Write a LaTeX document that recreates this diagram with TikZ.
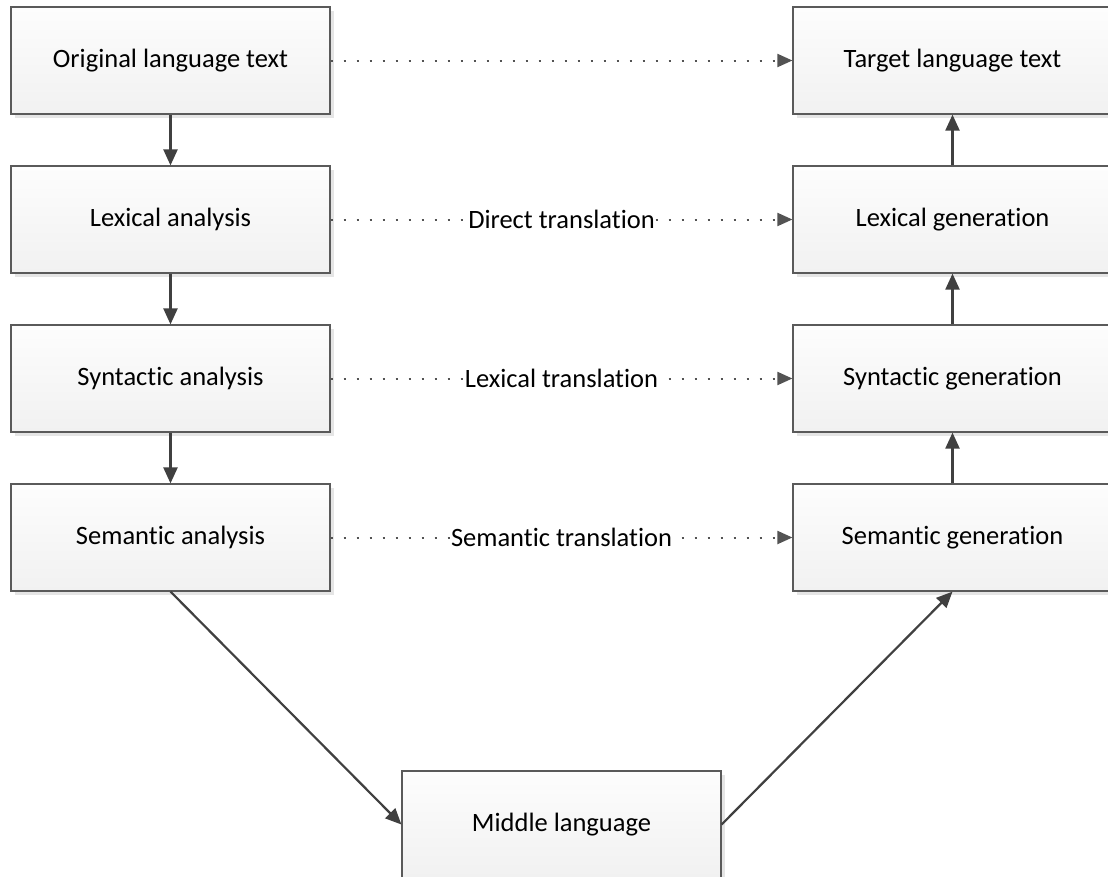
\documentclass[tikz,border=0pt]{standalone}
\usepackage{fontspec}
\setmainfont{Carlito}[Ligatures=NoCommon]
\usetikzlibrary{arrows.meta,shadows}
\definecolor{edge}{HTML}{5A5A5A}
\definecolor{ink}{HTML}{404040}
\definecolor{boxtop}{HTML}{FDFDFD}
\definecolor{boxbot}{HTML}{F1F1F1}
\tikzset{
  stage/.style={draw=edge, line width=1.2pt, top color=boxtop, bottom color=boxbot,
    minimum width=319pt, minimum height=107pt, inner sep=0pt,
    font=\fontsize{26.5}{30}\selectfont,
    drop shadow={shadow xshift=3.5pt, shadow yshift=-3.5pt, fill=black!10, opacity=1}},
  flow/.style={draw=ink, line width=2.2pt, -{Triangle[length=16pt,width=14pt]}},
  link/.style={draw=ink!90, line width=2pt, dash pattern=on 2pt off 11pt,
    -{Triangle[length=15pt,width=13pt]}},
  tag/.style={fill=white, inner xsep=0.5pt, inner ysep=2pt, font=\fontsize{26.5}{30}\selectfont}
}
\begin{document}
\begin{tikzpicture}[x=1pt, y=-1pt]
  \useasboundingbox (0,0) rectangle (1108,876);
  \fill[white] (0,0) rectangle (1108,876);
  \clip (0,0) rectangle (1108,876);

  % analysis column
  \node[stage] (orig) at (170.5,60.5)  {Original language text};
  \node[stage] (lex)  at (170.5,219.5) {Lexical analysis};
  \node[stage] (syn)  at (170.5,378.5) {Syntactic analysis};
  \node[stage] (sem)  at (170.5,537.5) {Semantic analysis};

  % generation column
  \node[stage] (tgt)    at (952.5,60.5)  {Target language text};
  \node[stage] (lexgen) at (952.5,219.5) {Lexical generation};
  \node[stage] (syngen) at (952.5,378.5) {Syntactic generation};
  \node[stage] (semgen) at (952.5,537.5) {Semantic generation};

  % interlingua
  \node[stage] (mid) at (561.5,824.5) {Middle language};

  % analysis steps
  \draw[flow] (orig) -- (lex);
  \draw[flow] (lex) -- (syn);
  \draw[flow] (syn) -- (sem);
  \draw[flow] (sem.south) -- (mid.west);

  % generation steps
  \draw[flow] (mid.east) -- (semgen.south);
  \draw[flow] (semgen) -- (syngen);
  \draw[flow] (syngen) -- (lexgen);
  \draw[flow] (lexgen) -- (tgt);

  % transfer shortcuts
  \draw[link] (orig) -- (tgt);
  \draw[link] (lex) -- node[tag] {Direct translation} (lexgen);
  \draw[link] (syn) -- node[tag] {Lexical translation} (syngen);
  \draw[link] (sem) -- node[tag] {Semantic translation} (semgen);
\end{tikzpicture}
\end{document}
